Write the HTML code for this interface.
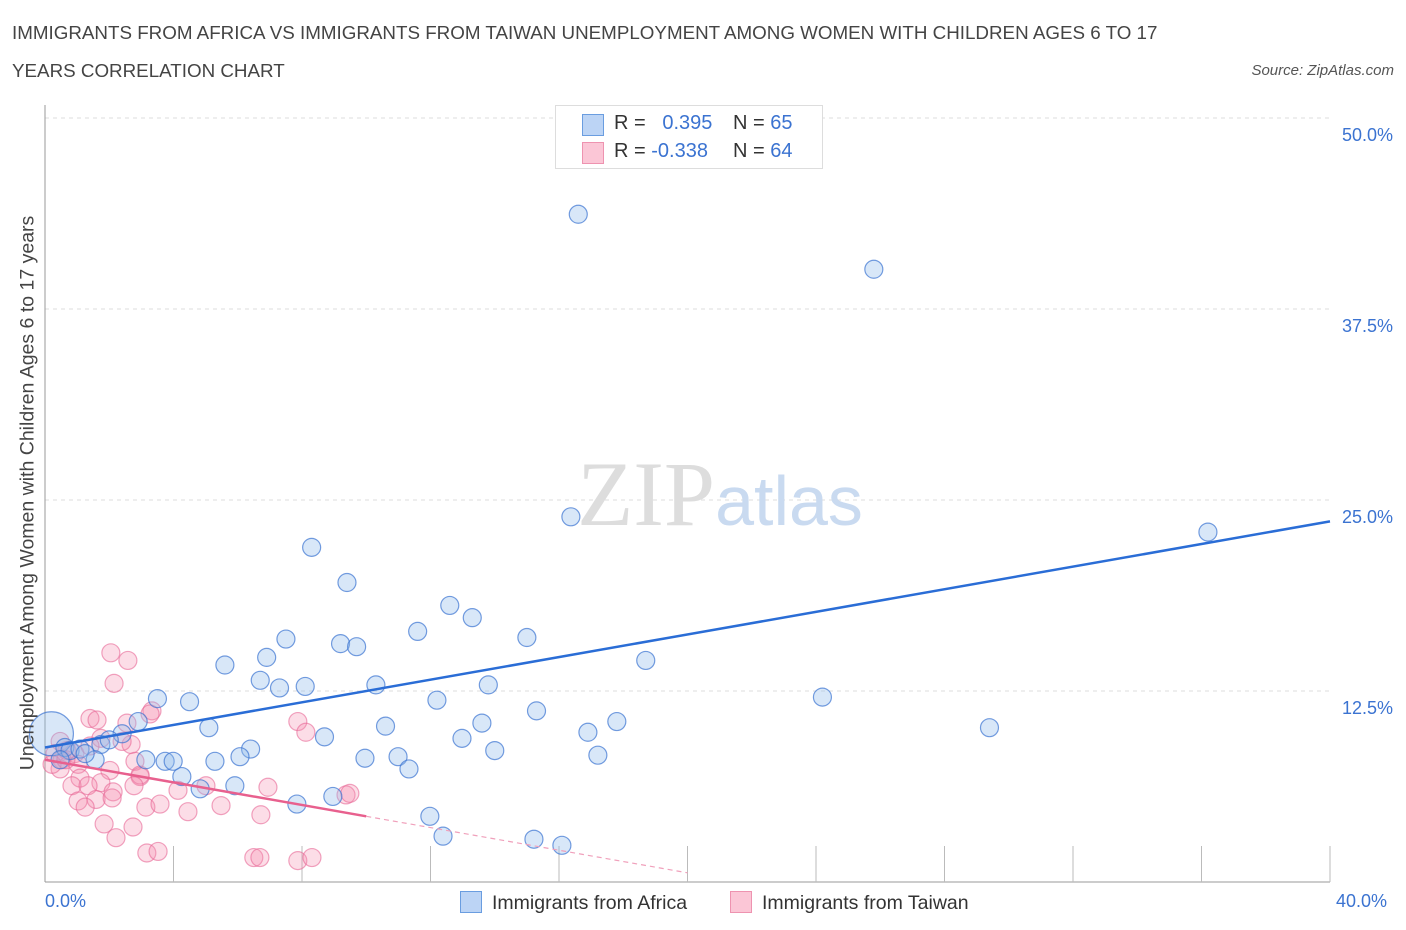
<!DOCTYPE html>
<html><head><meta charset="utf-8"><style>
body{margin:0;background:#fff;font-family:"Liberation Sans",sans-serif;}
#wrap{position:relative;width:1406px;height:930px;overflow:hidden;}
.t{position:absolute;color:#444;font-size:18.8px;}
</style></head><body>
<div id="wrap">
<div class="t" style="left:12px;top:22px;">IMMIGRANTS FROM AFRICA VS IMMIGRANTS FROM TAIWAN UNEMPLOYMENT AMONG WOMEN WITH CHILDREN AGES 6 TO 17</div>
<div class="t" style="left:12px;top:60px;">YEARS CORRELATION CHART</div>
<div class="t" style="right:12px;top:62px;font-size:15px;font-style:italic;color:#555;">Source: ZipAtlas.com</div>
<svg id="svg" width="1406" height="930" style="position:absolute;left:0;top:0"></svg>
</div>
<script>
const xCats=[0,40];
const yTicks=[12.5,25,37.5,50];
const yTickLabels=["12.5%","25.0%","37.5%","50.0%"];
const africaX=[16.6,25.8,16.37,36.2,8.3,9.4,12.6,13.3,11.6,7.5,9.2,9.7,15,18.7,6.9,5.6,6.7,7.3,8.1,10.3,13.8,24.2,3.5,4.5,12.2,2.9,5.1,10.6,15.3,13.6,17.8,16.9,29.4,8.7,12.98,2.4,1.74,2,14,6.4,6.07,5.29,9.96,10.99,3.14,3.74,3.99,1.56,11.33,4.26,5.91,4.83,7.84,8.96,11.98,12.39,15.22,16.09,17.21,0.2,0.62,0.78,1.09,1.25,0.47];
const africaY=[43.7,40.1,23.9,22.9,21.9,19.6,18.1,17.3,16.4,15.9,15.6,15.4,16,14.5,14.7,14.2,13.2,12.7,12.8,12.9,12.9,12.1,12,11.8,11.9,10.5,10.1,10.2,11.2,10.4,10.5,9.8,10.1,9.5,9.4,9.7,9,9.3,8.6,8.7,8.2,7.9,8.1,8.2,8,7.9,7.9,8,7.4,6.9,6.3,6.1,5.1,5.6,4.3,3,2.8,2.4,8.3,9.7,8.8,8.6,8.7,8.4,8];
const taiwanX=[2.05,2.58,2.15,3.33,1.4,1.62,2.55,7.87,8.12,0.47,1.74,2.68,2.4,0.68,0.31,0.93,0.53,1.03,2.8,2.96,2.02,1.74,1.09,0.84,1.34,2.12,1.59,1.03,1.25,2.09,2.96,3.14,3.58,4.45,5.48,6.72,6.94,5.01,4.14,1.84,2.74,2.21,3.17,3.52,6.5,6.69,7.87,8.31,9.37,9.49,2.77,0.47,0.22,0.65,3.27,1.4];
const taiwanY=[15,14.5,13,11.2,10.7,10.6,10.4,10.5,9.8,9.2,9.4,9,9.2,8.6,8.4,8.4,8,7.7,7.9,6.9,7.3,6.5,6.8,6.3,6.3,5.9,5.4,5.3,4.9,5.5,7,4.9,5.1,4.6,5,4.4,6.2,6.3,6,3.8,3.6,2.9,1.9,2.0,1.6,1.6,1.4,1.6,5.7,5.8,6.3,7.4,7.7,8,11,8.9];
const trendA=[8.8,23.6];
const trendT=[8.0,0.6];
const X=v=>45+v/40*1285, Y=v=>882-v/50*764;
const s=document.getElementById('svg'),NS='http://www.w3.org/2000/svg';
function mk(tag,a,p){const e=document.createElementNS(NS,tag);for(const k in a)e.setAttribute(k,a[k]);(p||s).appendChild(e);return e;}
yTicks.forEach((t,i)=>{
 const g=mk('line',{x1:45,x2:1330,y1:Y(t),y2:Y(t),stroke:'#ddd','stroke-dasharray':'4,4'});
 
 
 const tx=mk('text',{x:1393,y:Y(t)+23,'text-anchor':'end',fill:'#3b73d1','font-size':18,'font-family':'Liberation Sans'});
 tx.textContent=yTickLabels[i];
 
 
});
const ax=mk('line',{x1:45,x2:1330,y1:882,y2:882,stroke:'#999'});


const ay=mk('line',{x1:45,x2:45,y1:105,y2:882,stroke:'#999'});


for(let i=1;i<=10;i++){const tk=mk('line',{x1:45+i*128.5,x2:45+i*128.5,y1:846,y2:882,stroke:'#bbb'});
 
 }
const wm=mk('text',{x:720,y:525,'text-anchor':'middle','font-size':92,fill:'#ddd','font-family':'Liberation Serif'});
wm.innerHTML='ZIP<tspan fill="#c9daf0" font-family="Liberation Sans" font-size="70">atlas</tspan>';


function pts(xs,ys,fill,stroke,name){xs.forEach((x,i)=>{
 const big=(name==='africa-point'&&i===59);
 const c=mk('circle',{cx:X(x),cy:Y(ys[i]),r:big?22:9,fill:fill,stroke:stroke,'stroke-width':1.2});
 
 });}
pts(taiwanX,taiwanY,'rgba(244,143,177,0.3)','rgba(232,104,150,0.6)','taiwan-point');
pts(africaX,africaY,'rgba(144,185,235,0.35)','rgba(59,115,209,0.7)','africa-point');
const la=mk('line',{x1:X(0),y1:Y(trendA[0]),x2:X(40),y2:Y(trendA[1]),stroke:'#2a6dd6','stroke-width':2.5});


const slope=(trendT[1]-trendT[0])/20;
const lt=mk('line',{x1:X(0),y1:Y(trendT[0]),x2:X(10),y2:Y(trendT[0]+slope*10),stroke:'#e8608e','stroke-width':2.5});


const ld=mk('line',{x1:X(10),y1:Y(trendT[0]+slope*10),x2:X(20),y2:Y(trendT[1]),stroke:'#f0a0bb','stroke-width':1.2,'stroke-dasharray':'5,4'});


</script>
<div class="t" style="left:45px;top:891px;color:#3b73d1;font-size:18px;">0.0%</div>
<div class="t" style="left:1336px;top:891px;color:#3b73d1;font-size:18px;">40.0%</div>
<div class="t" style="left:8px;top:493px;width:0;height:0;"><div style="position:absolute;transform:translate(-50%,-50%) rotate(-90deg);white-space:nowrap;left:20px;font-size:19.5px;color:#444;">Unemployment Among Women with Children Ages 6 to 17 years</div></div>
<div style="position:absolute;left:555px;top:105px;width:266px;height:62px;border:1px solid #ddd;background:#fff;font-size:20px;color:#333;">
 <div style="position:absolute;left:26px;top:8px;width:20px;height:20px;background:#bcd4f5;border:1px solid #6a9de0;"></div>
 <div style="position:absolute;left:58px;top:6px;">R = &nbsp;&nbsp;<span style="color:#3b73d1">0.395</span></div>
 <div style="position:absolute;left:177px;top:6px;">N = <span style="color:#3b73d1">65</span></div>
 <div style="position:absolute;left:26px;top:36px;width:20px;height:20px;background:#fbc6d6;border:1px solid #ee93b0;"></div>
 <div style="position:absolute;left:58px;top:34px;">R = <span style="color:#3b73d1">-0.338</span></div>
 <div style="position:absolute;left:177px;top:34px;">N = <span style="color:#3b73d1">64</span></div>
</div>
<div style="position:absolute;left:460px;top:891px;font-size:19.5px;color:#333;"><span style="display:inline-block;width:20px;height:20px;background:#bcd4f5;border:1px solid #6a9de0;vertical-align:-4px;margin-right:10px;"></span>Immigrants from Africa</div>
<div style="position:absolute;left:730px;top:891px;font-size:19.5px;color:#333;"><span style="display:inline-block;width:20px;height:20px;background:#fbc6d6;border:1px solid #ee93b0;vertical-align:-4px;margin-right:10px;"></span>Immigrants from Taiwan</div>
</body></html>
